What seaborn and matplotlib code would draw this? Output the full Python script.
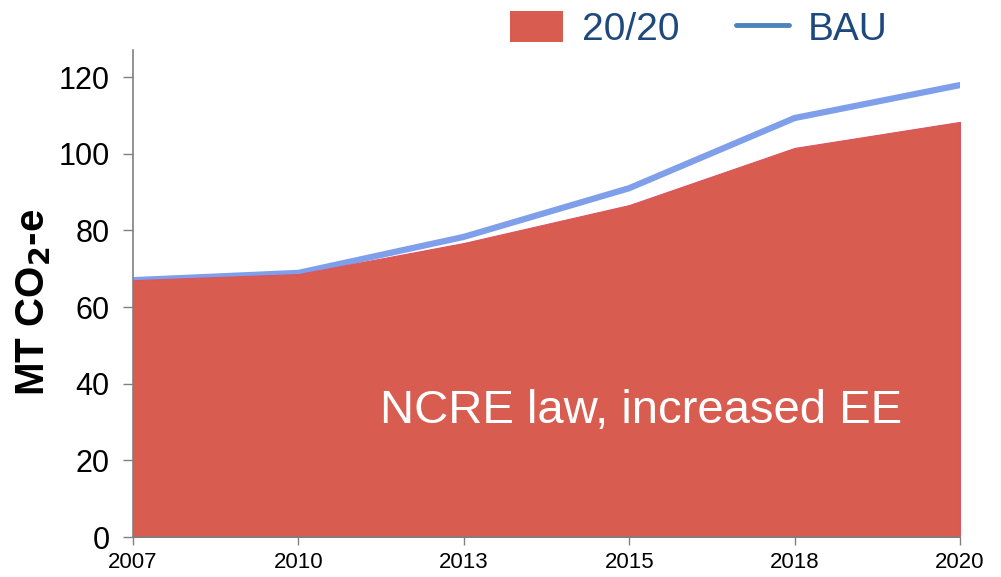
# emissions chart: 20/20 scenario as a filled area, BAU as a line on top
import seaborn as sns
import matplotlib.pyplot as plt
from matplotlib.patches import Patch
from matplotlib.lines import Line2D
import numpy as np
import pandas as pd

years = ["2007", "2010", "2013", "2015", "2018", "2020"]
scenario_2020 = [67.0, 68.6, 76.7, 86.6, 101.5, 108.3]
bau = [67.0, 68.9, 78.3, 91.0, 109.3, 117.9]
y_ticks = [0, 20, 40, 60, 80, 100, 120]

df = pd.DataFrame({"year": years, "pos": np.arange(len(years)),
                   "scenario": scenario_2020, "bau": bau})

sns.set_style("white")
plt.rcParams['font.family'] = ['Liberation Sans', 'DejaVu Sans']
plt.rcParams['text.color'] = 'black'
plt.rcParams['xtick.color'] = 'black'
plt.rcParams['ytick.color'] = 'black'
plt.rcParams['axes.labelcolor'] = 'black'

fig = plt.figure(figsize=(10.01, 5.77), dpi=100)
ax = fig.add_axes([0.1329, 0.0693, 0.8261, 0.8437])

# blue line first so the red area sits over it where they coincide
sns.lineplot(data=df, x="pos", y="bau", color="#7F9FEA", linewidth=4.5,
             ax=ax, zorder=2, legend=False)
ax.fill_between(df["pos"], 0, df["scenario"], color="#D85C50",
                edgecolor="#DC5460", linewidth=0.8, zorder=3)

ax.set_xlim(0, len(years) - 1)
ax.set_ylim(0, 127)
ax.set_xticks(df["pos"])
ax.set_xticklabels(df["year"], fontsize=16)
ax.set_yticks(y_ticks)
ax.tick_params(axis="y", labelsize=22, length=7, width=1, color="#808080",
               labelcolor="black", direction="out", left=True, pad=10)
ax.tick_params(axis="x", length=6, width=1, color="#808080",
               labelcolor="black", direction="out", bottom=True, pad=5)
ax.set_xlabel("")
ax.set_ylabel("MT CO$_\\mathbf{2}$-e", fontsize=29, fontweight="bold", labelpad=4)
ax.yaxis.label.set_y(0.482)

for side in ["top", "right"]:
    ax.spines[side].set_visible(False)
for side in ["left", "bottom"]:
    ax.spines[side].set_color("#808080")
    ax.spines[side].set_linewidth(1.2)
    ax.spines[side].set_zorder(5)

ax.text(3.07, 33, "NCRE law, increased EE", color="white", fontsize=34,
        ha="center", va="center", zorder=4)

handles = [Patch(facecolor="#D85C50", edgecolor="none"),
           Line2D([0], [0], color="#4F81BD", linewidth=3.5)]
leg = fig.legend(handles, ["20/20", "BAU"], loc="upper right",
                 bbox_to_anchor=(0.922, 1.042), ncol=2, frameon=False,
                 fontsize=28, handlelength=1.35, handleheight=0.85,
                 handletextpad=0.5, columnspacing=1.45)
for t in leg.get_texts():
    t.set_color("#1F497D")

fig.savefig("out.png", dpi=100)
